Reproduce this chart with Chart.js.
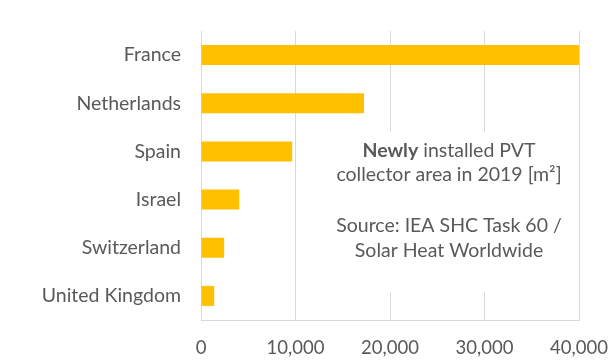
<!DOCTYPE html>
<html>
<head>
<meta charset="utf-8">
<script src="https://cdn.jsdelivr.net/npm/chart.js@4/dist/chart.umd.min.js"></script>
<style>
  html, body { margin: 0; padding: 0; background: #fff; }
  #wrap { width: 616px; height: 360px; position: relative; }
</style>
</head>
<body>
<div id="wrap"><canvas id="c" width="616" height="360"></canvas></div>
<script>
const categories = ["France", "Netherlands", "Spain", "Israel", "Switzerland", "United Kingdom"];
const areaValues = [40000, 17250, 9650, 4050, 2450, 1400];
const xTicks = [0, 10000, 20000, 30000, 40000];
const noteBold = "Newly";
const noteLines = [" installed PVT", "collector area in 2019 [m²]", "", "Source: IEA SHC Task 60 /", "Solar Heat Worldwide"];

const FONT = "Lato, 'Open Sans', sans-serif";
const TXT = "#595959";
const GRID = "#d9d9d9";

const notePlugin = {
  id: "note",
  afterDatasetsDraw(chart) {
    const ctx = chart.ctx;
    ctx.save();
    ctx.fillStyle = "#ffffff";
    ctx.fillRect(300, 132, 275, 160);
    ctx.fillStyle = TXT;
    ctx.textBaseline = "alphabetic";
    const cx = 449;
    const fs = 19.5;
    ctx.font = "bold " + fs + "px " + FONT;
    const wb = ctx.measureText(noteBold).width;
    ctx.font = fs + "px " + FONT;
    const wr = ctx.measureText(noteLines[0]).width;
    let x0 = cx - (wb + wr) / 2;
    ctx.textAlign = "left";
    ctx.font = "bold " + fs + "px " + FONT;
    ctx.fillText(noteBold, x0, 157);
    ctx.font = fs + "px " + FONT;
    ctx.fillText(noteLines[0], x0 + wb, 157);
    ctx.textAlign = "center";
    const ys = [157, 181, 206, 232, 257];
    for (let i = 1; i < noteLines.length; i++) {
      if (noteLines[i]) ctx.fillText(noteLines[i], cx, ys[i]);
    }
    ctx.restore();
  }
};

new Chart(document.getElementById("c"), {
  type: "bar",
  data: {
    labels: categories,
    datasets: [{
      data: areaValues,
      backgroundColor: "#FFC000",
      borderWidth: 0,
      categoryPercentage: 1.0,
      barPercentage: 0.415
    }]
  },
  options: {
    indexAxis: "y",
    responsive: false,
    animation: false,
    devicePixelRatio: 1,
    layout: { padding: { top: 31, right: 37, bottom: 0, left: 0 } },
    plugins: { legend: { display: false }, tooltip: { enabled: false } },
    scales: {
      x: {
        min: 0, max: 40000,
        afterBuildTicks(scale) { scale.ticks = xTicks.map(v => ({ value: v })); },
        afterFit(scale) { scale.height = 40; scale.paddingRight = 0; scale.paddingLeft = 0; },
        grid: { color: GRID, lineWidth: 1, drawTicks: false },
        border: { color: GRID, width: 1 },
        ticks: {
          color: TXT, padding: 17,
          font: { family: FONT, size: 18.5 },
          callback: v => v.toLocaleString("en-US")
        }
      },
      y: {
        afterFit(scale) { scale.width = 201; scale.paddingTop = 0; scale.paddingBottom = 0; },
        grid: { display: false, drawTicks: false },
        border: { color: GRID, width: 1 },
        ticks: {
          color: TXT, padding: 20,
          font: { family: FONT, size: 19.5 }
        }
      }
    }
  },
  plugins: [notePlugin]
});
</script>
</body>
</html>
